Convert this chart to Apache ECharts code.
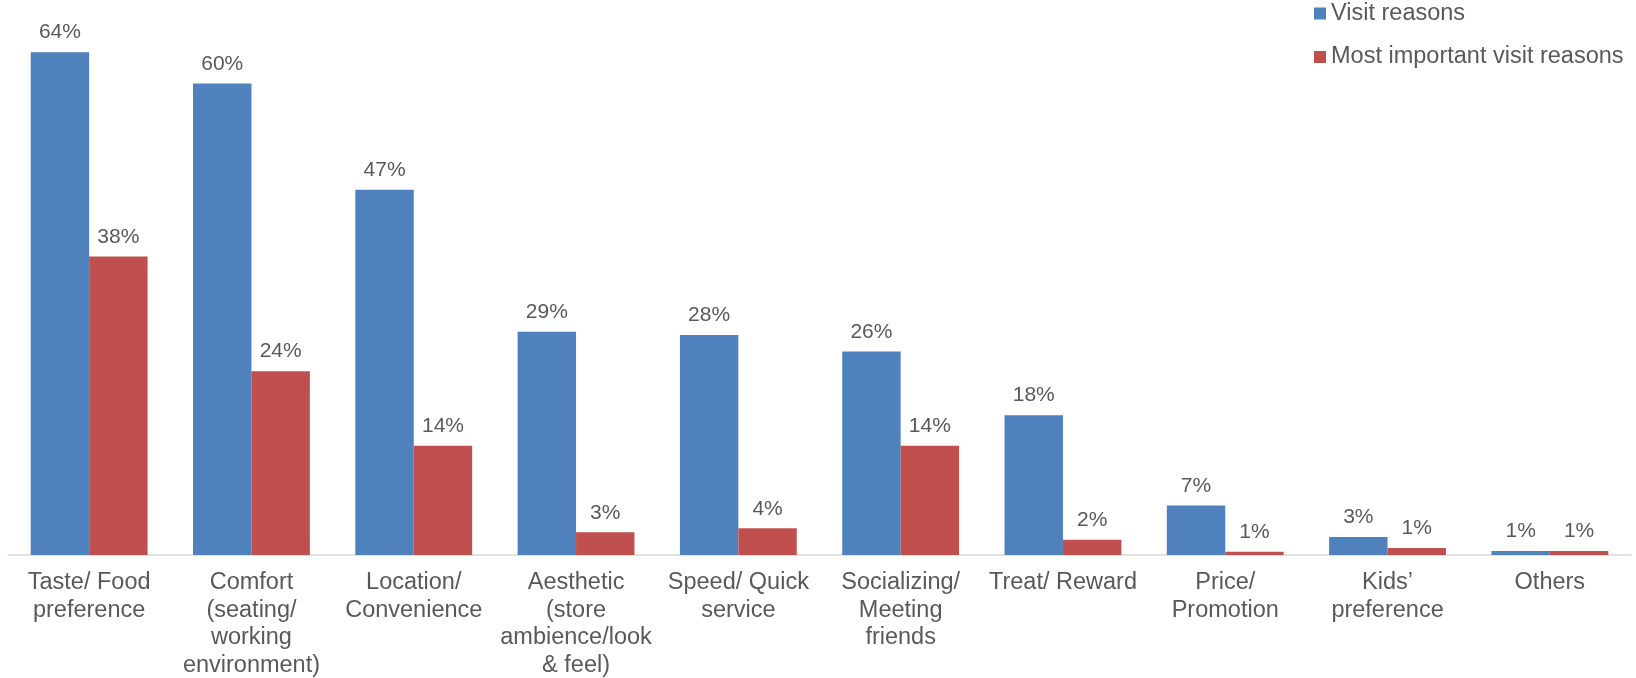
<!DOCTYPE html>
<html>
<head>
<meta charset="utf-8">
<script src="https://cdn.jsdelivr.net/npm/echarts@6/dist/echarts.min.js"></script>
<style>
  html, body { margin: 0; padding: 0; background: #fff; }
  #chart { width: 1636px; height: 678px; }
</style>
</head>
<body>
<div id="chart"></div>
<script>
// categories (line breaks as in the original axis)
const categories = [
  "Taste/ Food\npreference",
  "Comfort\n(seating/\nworking\nenvironment)",
  "Location/\nConvenience",
  "Aesthetic\n(store\nambience/look\n& feel)",
  "Speed/ Quick\nservice",
  "Socializing/\nMeeting\nfriends",
  "Treat/ Reward",
  "Price/\nPromotion",
  "Kids\u2019\npreference",
  "Others"
];
// bar heights
const visitReasons = [64, 60, 46.5, 28.4, 28, 25.9, 17.8, 6.3, 2.3, 0.5];
const mostImportant = [38, 23.4, 13.9, 2.9, 3.4, 13.9, 1.95, 0.4, 0.9, 0.5];
// printed labels
const visitLabels = ["64%", "60%", "47%", "29%", "28%", "26%", "18%", "7%", "3%", "1%"];
const importantLabels = ["38%", "24%", "14%", "3%", "4%", "14%", "2%", "1%", "1%", "1%"];

const textColor = "#595959";
const font = "'Liberation Sans', Arial, sans-serif";

const chart = echarts.init(document.getElementById("chart"));
const option = {
  animation: false,
  textStyle: { fontFamily: font },
  legend: {
    orient: "vertical",
    left: 1314,
    top: 1.5,
    padding: 0,
    icon: "rect",
    itemWidth: 12,
    itemHeight: 12,
    itemGap: 19.5,
    textStyle: { fontSize: 23.5, color: textColor, fontFamily: font },
    data: ["Visit reasons", "Most important visit reasons"]
  },
  grid: {
    left: 8,
    right: 5,
    top: 5,
    bottom: 123,
    containLabel: false,
    outerBoundsMode: "none"
  },
  xAxis: {
    type: "category",
    data: categories,
    axisLine: { lineStyle: { color: "#D9D9D9", width: 1.5 } },
    axisTick: { show: false },
    axisLabel: {
      interval: 0,
      margin: 14,
      fontSize: 23.5,
      lineHeight: 27.5,
      color: textColor,
      fontFamily: font
    }
  },
  yAxis: {
    type: "value",
    min: 0,
    max: 70,
    show: false,
    splitLine: { show: false }
  },
  series: [
    {
      name: "Visit reasons",
      type: "bar",
      data: visitReasons,
      barWidth: "36%",
      barGap: "0%",
      itemStyle: { color: "#4F81BD" },
      label: {
        show: true,
        position: "top",
        distance: 9,
        fontSize: 21,
        color: textColor,
        fontFamily: font,
        formatter: (p) => visitLabels[p.dataIndex]
      }
    },
    {
      name: "Most important visit reasons",
      type: "bar",
      data: mostImportant,
      barWidth: "36%",
      itemStyle: { color: "#C0504D" },
      label: {
        show: true,
        position: "top",
        distance: 9,
        fontSize: 21,
        color: textColor,
        fontFamily: font,
        formatter: (p) => importantLabels[p.dataIndex]
      }
    }
  ]
};
chart.setOption(option);
</script>
</body>
</html>
